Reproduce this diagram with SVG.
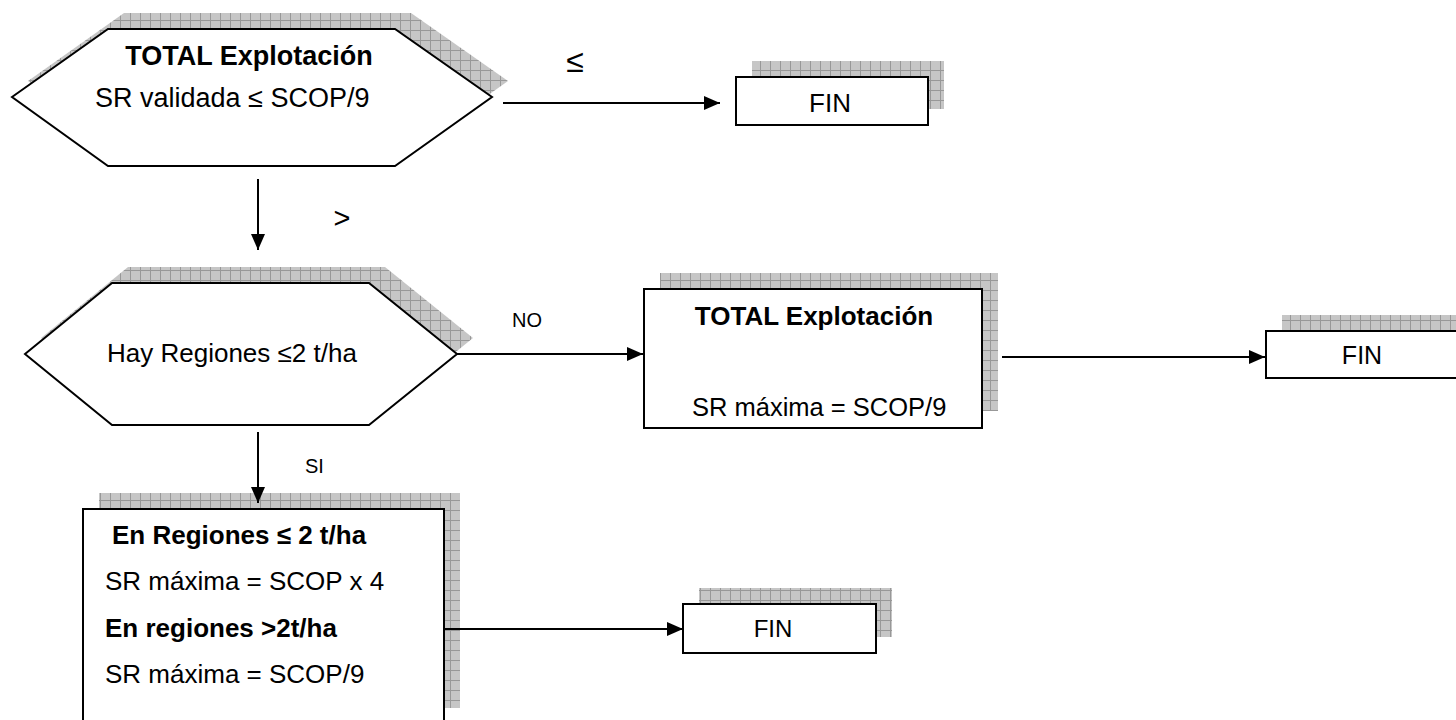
<svg xmlns="http://www.w3.org/2000/svg" width="1456" height="720" viewBox="0 0 1456 720">
<style>
.shape{fill:#ffffff;stroke:#000000;stroke-width:2}
.shadow{fill:url(#grid);stroke:none}
.t{font-family:"Liberation Sans",Arial,sans-serif;fill:#000000;font-size:26px}
.b{font-weight:bold}
.m{text-anchor:middle}
.small{font-size:20px}
.conn{stroke:#000000;stroke-width:2;fill:none;marker-end:url(#arrow)}
</style>
<defs>
<pattern id="grid" width="10" height="10" patternUnits="userSpaceOnUse">
<rect width="10" height="10" fill="#c6c6c6"/>
<path d="M0 0.5H10M0.5 0V10" stroke="#989898" stroke-width="1"/>
</pattern>
<marker id="arrow" markerUnits="userSpaceOnUse" markerWidth="18" markerHeight="14" refX="16" refY="7" orient="auto">
<path d="M0 0L16 7L0 14Z" fill="#000000"/>
</marker>
</defs>
<rect width="1456" height="720" fill="#ffffff"/>

<g id="decision1">
<polygon class="shadow" points="28,81 124,13 411,13 508,81 411,150 124,150"/>
<polygon class="shape" points="12,97 108,29 395,29 492,97 395,166 108,166"/>
<text class="t b m" x="249" y="65" style="font-size:27px">TOTAL Explotación</text>
<text class="t" x="95" y="107" style="font-size:27px">SR validada ≤ SCOP/9</text>
</g>

<g id="fin1">
<rect class="shadow" x="752" y="61" width="192" height="48"/>
<rect class="shape" x="736" y="77" width="192" height="48"/>
<text class="t m" x="830" y="112" style="font-size:26px">FIN</text>
</g>

<g id="decision2">
<polygon class="shadow" points="41,338 128,267 385,267 473,338 385,409 128,409"/>
<polygon class="shape" points="25,354 112,283 369,283 457,354 369,425 112,425"/>
<text class="t" x="107" y="362">Hay Regiones ≤2 t/ha</text>
</g>

<g id="total2">
<rect class="shadow" x="660" y="273" width="338" height="138"/>
<rect class="shape" x="644" y="289" width="338" height="139"/>
<text class="t b m" x="814" y="325">TOTAL Explotación</text>
<text class="t" x="692" y="416" style="font-size:25.5px">SR máxima = SCOP/9</text>
</g>

<g id="fin2">
<rect class="shadow" x="1282" y="315" width="190" height="47"/>
<rect class="shape" x="1266" y="331" width="192" height="47"/>
<text class="t m" x="1362" y="364" style="font-size:25px">FIN</text>
</g>

<g id="regiones">
<rect class="shadow" x="99" y="493" width="361" height="215"/>
<rect class="shape" x="83" y="509" width="361" height="215"/>
<text class="t b" x="112" y="544">En Regiones ≤ 2 t/ha</text>
<text class="t" x="105" y="590">SR máxima = SCOP x 4</text>
<text class="t b" x="105" y="637">En regiones &gt;2t/ha</text>
<text class="t" x="105" y="683">SR máxima = SCOP/9</text>
</g>

<g id="fin3">
<rect class="shadow" x="699" y="588" width="193" height="49"/>
<rect class="shape" x="683" y="604" width="193" height="49"/>
<text class="t m" x="773" y="637" style="font-size:24px">FIN</text>
</g>

<g id="connectors">
<line class="conn" x1="503" y1="103" x2="720" y2="103"/>
<line class="conn" x1="258" y1="179" x2="258" y2="250"/>
<line class="conn" x1="457" y1="354" x2="643" y2="354"/>
<line class="conn" x1="1002" y1="357" x2="1265" y2="357"/>
<line class="conn" x1="258" y1="432" x2="258" y2="503"/>
<line class="conn" x1="444" y1="629" x2="683" y2="629"/>
<text class="t m" x="575" y="72" style="font-size:32px">≤</text>
<text class="t m" x="342" y="228" style="font-size:29px">&gt;</text>
<text class="t small" x="512" y="327">NO</text>
<text class="t small" x="305" y="473">SI</text>
</g>
</svg>
